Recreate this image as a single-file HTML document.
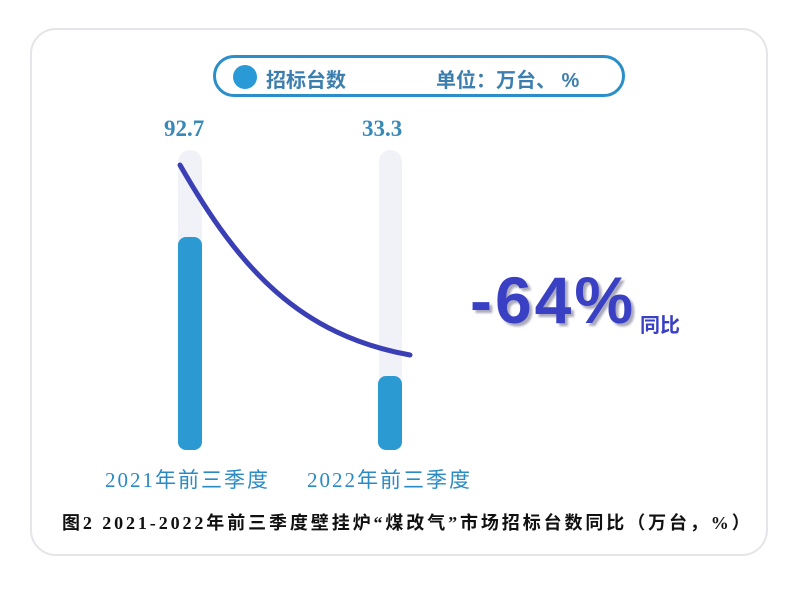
<!DOCTYPE html>
<html><head><meta charset="utf-8"><style>
body{margin:0;width:800px;height:592px;background:#fff;position:relative;overflow:hidden;font-family:"Liberation Sans","Noto Sans CJK SC",sans-serif}
.card{position:absolute;left:30px;top:28px;width:738px;height:528px;border:2px solid #e4e4ea;border-radius:26px;box-sizing:border-box}
.pill{position:absolute;left:213px;top:55px;width:412px;height:42px;border:3px solid #2a8fc8;border-radius:22px;box-sizing:border-box}
.t{position:absolute;white-space:nowrap}
</style></head><body>
<div class="card"></div>
<div class="pill"></div>
<div style="position:absolute;left:233px;top:65px;width:24px;height:24px;border-radius:50%;background:#2a9ad6"></div>
<div class="t" style="left:266px;top:64px;font-size:20px;font-weight:bold;color:#3c7fae">招标台数</div>
<div class="t" style="left:436px;top:64px;font-size:20px;font-weight:bold;color:#3c7fae">单位：万台、 %</div>
<div style="position:absolute;left:178px;top:150px;width:24px;height:300px;border-radius:12px;background:#f1f2f8"></div>
<div style="position:absolute;left:178px;top:237px;width:24px;height:213px;border-radius:8px;background:#2b9ad3"></div>
<div style="position:absolute;left:379px;top:150px;width:23px;height:300px;border-radius:12px;background:#f1f2f8"></div>
<div style="position:absolute;left:378px;top:376px;width:24px;height:74px;border-radius:8px;background:#2b9ad3"></div>
<div class="t" style="left:164px;top:116px;font-family:'Liberation Serif',serif;font-size:23px;font-weight:bold;color:#3889b8">92.7</div>
<div class="t" style="left:362px;top:116px;font-family:'Liberation Serif',serif;font-size:23px;font-weight:bold;color:#3889b8">33.3</div>
<svg style="position:absolute;left:0;top:0" width="800" height="592"><path d="M180 165 C240 270 300 335 410 355" fill="none" stroke="#3a3fb5" stroke-width="5" stroke-linecap="round"/></svg>
<div class="t" style="left:470px;top:262px;font-size:66px;font-weight:bold;color:#3a40c4;letter-spacing:3px;text-shadow:3px 3px 2px #aab">-64%</div>
<div class="t" style="left:640px;top:309px;font-size:20px;font-weight:bold;color:#3a40c4">同比</div>
<div class="t" style="left:105px;top:464px;font-family:'Liberation Serif','Noto Sans CJK SC',serif;font-size:21px;letter-spacing:2px;color:#2a8bc4">2021年前三季度</div>
<div class="t" style="left:307px;top:464px;font-family:'Liberation Serif','Noto Sans CJK SC',serif;font-size:21px;letter-spacing:2px;color:#2a8bc4">2022年前三季度</div>
<div class="t" style="left:62px;top:509px;font-family:'Liberation Serif','Noto Sans CJK SC',serif;font-size:18px;letter-spacing:2.9px;font-weight:bold;color:#111">图2 2021-2022年前三季度壁挂炉“煤改气”市场招标台数同比（万台，%）</div>
</body></html>
